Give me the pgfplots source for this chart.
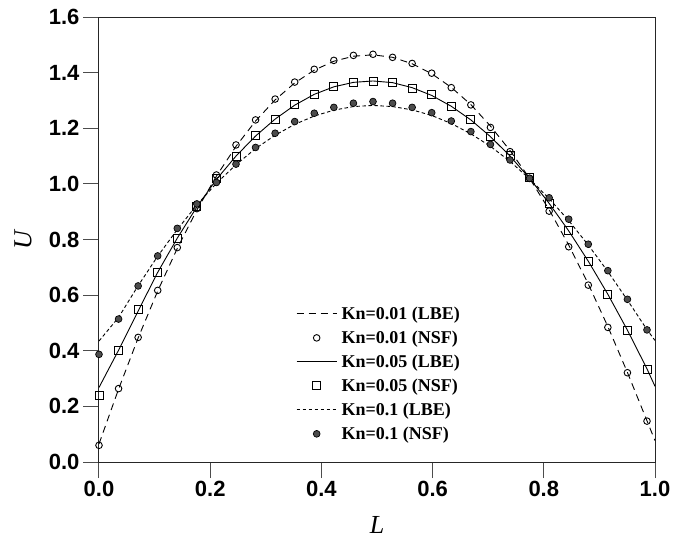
\documentclass[border=0pt]{standalone}
\usepackage{pgfplots}
\pgfplotsset{compat=1.18}
\usepackage{pgfplotstable}
\usepackage{fontspec}
\setmainfont{Liberation Serif}
\setsansfont{Liberation Sans}

% x, NSF(Kn=0.01), NSF(Kn=0.05), NSF(Kn=0.1)
\pgfplotstableread{
x      a      b      c
0.0000 0.060  0.238  0.387
0.0352 0.264  0.400  0.514
0.0704 0.448  0.547  0.633
0.1056 0.617  0.683  0.741
0.1408 0.771  0.804  0.840
0.1760 0.911  0.920  0.928
0.2112 1.032  1.020  1.005
0.2464 1.140  1.100  1.071
0.2816 1.230  1.173  1.131
0.3168 1.305  1.233  1.182
0.3520 1.366  1.284  1.224
0.3872 1.412  1.323  1.254
0.4224 1.444  1.350  1.275
0.4576 1.462  1.366  1.290
0.4928 1.466  1.370  1.296
0.5280 1.455  1.365  1.290
0.5632 1.433  1.343  1.275
0.5984 1.398  1.320  1.256
0.6336 1.346  1.280  1.226
0.6688 1.284  1.232  1.188
0.7040 1.203  1.170  1.142
0.7392 1.116  1.104  1.086
0.7744 1.020  1.022  1.020
0.8096 0.902  0.930  0.950
0.8448 0.774  0.832  0.873
0.8800 0.636  0.720  0.783
0.9152 0.484  0.602  0.688
0.9504 0.321  0.472  0.585
0.9856 0.147  0.334  0.475
}\nsf

% x, LBE(Kn=0.01), LBE(Kn=0.05), LBE(Kn=0.1)
\pgfplotstableread{
x      a      b      c
0.0000 0.065  0.268  0.435
0.0352 0.262  0.402  0.520
0.0704 0.446  0.543  0.634
0.1056 0.615  0.682  0.740
0.1408 0.768  0.805  0.836
0.1760 0.906  0.917  0.924
0.2112 1.028  1.016  1.002
0.2464 1.135  1.100  1.069
0.2816 1.226  1.172  1.127
0.3168 1.302  1.233  1.175
0.3520 1.363  1.283  1.214
0.3872 1.409  1.322  1.244
0.4224 1.441  1.349  1.265
0.4576 1.459  1.365  1.278
0.4928 1.464  1.370  1.282
0.5280 1.455  1.364  1.278
0.5632 1.432  1.346  1.266
0.5984 1.396  1.318  1.246
0.6336 1.347  1.279  1.217
0.6688 1.285  1.230  1.180
0.7040 1.208  1.170  1.135
0.7392 1.120  1.100  1.081
0.7744 1.020  1.020  1.018
0.8096 0.907  0.930  0.947
0.8448 0.780  0.831  0.868
0.8800 0.640  0.722  0.780
0.9152 0.487  0.603  0.685
0.9504 0.322  0.474  0.582
0.9856 0.148  0.335  0.476
1.0000 0.077  0.272  0.437
}\lbe

\begin{document}
\begin{tikzpicture}
\useasboundingbox (-99pt,-88pt) rectangle (575pt,462pt);
\begin{axis}[
  scale only axis, width=556pt, height=445pt,
  xmin=0, xmax=1, ymin=0, ymax=1.6,
  xtick={0,0.2,0.4,0.6,0.8,1.0},
  ytick={0,0.2,0.4,0.6,0.8,1.0,1.2,1.4,1.6},
  xtick pos=bottom, ytick pos=left,
  tick align=outside, major tick length=16pt,
  tick style={black!70, line width=1pt},
  axis line style={black!85, line width=1pt},
  ticklabel style={font=\sffamily\bfseries\fontsize{22}{22}\selectfont},
  /pgf/number format/fixed,
  /pgf/number format/fixed zerofill,
  /pgf/number format/precision=1,
  /pgf/number format/assume math mode=true,
  xlabel={\textit{L}}, ylabel={\textit{U}},
  label style={font=\fontsize{26}{26}\selectfont},
  xlabel style={at={(axis description cs:0.5,-0.1416)}, anchor=center},
  ylabel style={at={(axis description cs:-0.1367,0.5)}, anchor=center},
  legend style={at={(axis description cs:0.349,0.358)}, anchor=north west,
    draw=none, fill=none, font=\bfseries\fontsize{18}{19}\selectfont,
    row sep=6pt, nodes={inner xsep=4.5pt}},
  legend cell align=left,
  legend image code/.code={\draw[mark repeat=2,mark phase=2]
     plot coordinates {(0pt,0pt)(20pt,0pt)(40pt,0pt)};},
  every axis plot/.append style={line width=0.9pt, black},
]
\addplot[black, dash pattern=on 7pt off 5pt] table[x=x,y=a]{\lbe};
\addlegendentry{Kn=0.01 (LBE)}
\addplot[only marks, mark=o, mark size=3.3pt, mark options={solid, line width=0.9pt}] table[x=x,y=a]{\nsf};
\addlegendentry{Kn=0.01 (NSF)}
\addplot[black, solid] table[x=x,y=b]{\lbe};
\addlegendentry{Kn=0.05 (LBE)}
\addplot[only marks, mark=square, mark size=4pt, mark options={solid, line width=0.9pt}] table[x=x,y=b]{\nsf};
\addlegendentry{Kn=0.05 (NSF)}
\addplot[black, dash pattern=on 3.5pt off 2.5pt] table[x=x,y=c]{\lbe};
\addlegendentry{Kn=0.1 (LBE)}
\addplot[only marks, mark=*, mark size=3.4pt, mark options={solid, line width=0.7pt, draw=black, fill=black!70}] table[x=x,y=c]{\nsf};
\addlegendentry{Kn=0.1 (NSF)}
\end{axis}
\end{tikzpicture}
\end{document}
